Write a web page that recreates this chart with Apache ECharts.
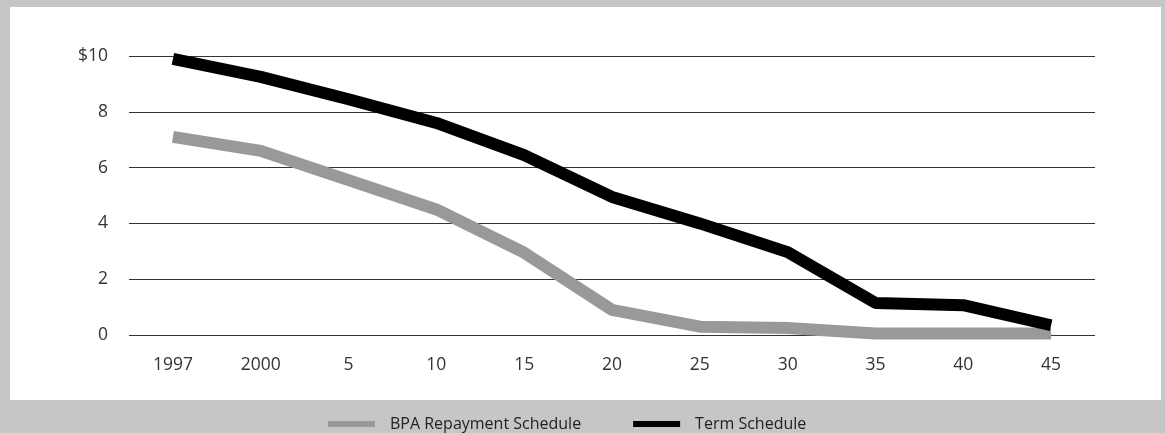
<!DOCTYPE html>
<html>
<head>
<meta charset="utf-8">
<script src="https://cdn.jsdelivr.net/npm/echarts@6/dist/echarts.min.js"></script>
<style>
  html, body { margin: 0; padding: 0; background: #c6c6c6; }
  #chart { width: 1165px; height: 433px; }
</style>
</head>
<body>
<div id="chart"></div>
<script>
// Schedule years along the horizontal axis
const categories = ['1997', '2000', '5', '10', '15', '20', '25', '30', '35', '40', '45'];
// Outstanding amounts, dollars (billions)
const bpaRepayment = [7.1, 6.6, 5.55, 4.5, 2.95, 0.9, 0.3, 0.25, 0.05, 0.05, 0.05];
const termSchedule = [9.9, 9.25, 8.45, 7.6, 6.45, 4.95, 4.0, 2.97, 1.15, 1.07, 0.35];
const seriesNames = ['BPA Repayment Schedule', 'Term Schedule'];

const chart = echarts.init(document.getElementById('chart'), null, { renderer: 'canvas' });
const FONT = '"Open Sans", "Noto Sans", sans-serif';

chart.setOption({
  backgroundColor: 'transparent',
  animation: false,
  graphic: [{
    type: 'rect',
    left: 10, top: 7,
    shape: { width: 1151, height: 393 },
    style: { fill: '#ffffff' },
    z: -10
  }],
  grid: { left: 129, right: 70, top: 56, bottom: 98 },
  legend: {
    left: 328, top: 416,
    padding: 0,
    itemWidth: 47, itemHeight: 6, itemGap: 52,
    icon: 'rect',
    textStyle: { fontFamily: FONT, fontSize: 16, color: '#222', padding: [0, 0, 0, 10] },
    data: seriesNames
  },
  xAxis: {
    type: 'category',
    data: categories,
    boundaryGap: true,
    axisLine: { show: false },
    axisTick: { show: false },
    axisLabel: { fontFamily: FONT, fontSize: 17.5, color: '#333', margin: 21 }
  },
  yAxis: {
    type: 'value',
    min: 0, max: 10, interval: 2,
    axisLine: { show: false },
    axisTick: { show: false },
    axisLabel: {
      fontFamily: FONT, fontSize: 17.5, color: '#333', margin: 21,
      formatter: v => (v === 10 ? '$10' : String(v))
    },
    splitLine: { lineStyle: { color: '#333', width: 1 } }
  },
  series: [
    {
      name: seriesNames[0], type: 'line', data: bpaRepayment,
      symbol: 'none', color: '#999999',
      lineStyle: { width: 12, color: '#999999' }
    },
    {
      name: seriesNames[1], type: 'line', data: termSchedule,
      symbol: 'none', color: '#000000',
      lineStyle: { width: 12, color: '#000000' }
    }
  ]
});
</script>
</body>
</html>
